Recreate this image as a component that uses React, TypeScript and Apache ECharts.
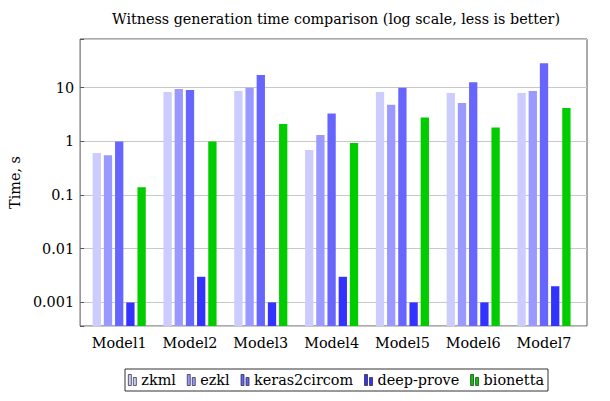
import React, { useEffect, useRef } from "react";
import * as echarts from "echarts";

const categories = ["Model1", "Model2", "Model3", "Model4", "Model5", "Model6", "Model7"];
const seriesNames = ["zkml", "ezkl", "keras2circom", "deep-prove", "bionetta"];
const zkml = [0.61, 8.3, 8.7, 0.69, 8.3, 8.0, 8.0];
const ezkl = [0.55, 9.5, 10, 1.31, 4.8, 5.2, 8.7];
const keras2circom = [1.0, 9.1, 17.3, 3.3, 10, 12.6, 28.5];
const deepProve = [0.001, 0.003, 0.001, 0.003, 0.001, 0.001, 0.002];
const bionetta = [0.14, 1.0, 2.1, 0.93, 2.8, 1.82, 4.2];
const yTickLabels: Record<string, string> = {
  "-3": "0.001",
  "-2": "0.01",
  "-1": "0.1",
  "0": "1",
  "1": "10",
};
const yMin = 0.000363;
const yMax = 81;

const colors = ["#ccccff", "#9999ff", "#6666ff", "#3333ff", "#00cc00"];
const FONT = "DejaVu Serif";
const FS = 14.4;

export default function App() {
  const ref = useRef<HTMLDivElement>(null);
  useEffect(() => {
    document.body.style.margin = "0";
    const chart = echarts.init(ref.current!, null, { renderer: "svg" });
    const values = [zkml, ezkl, keras2circom, deepProve, bionetta];
    const labelFmt = (v: number) => {
      const e = Math.log10(v);
      const r = Math.round(e);
      if (Math.abs(e - r) < 1e-6) return yTickLabels[String(r)] ?? "";
      return "";
    };
    const legendText = { fontFamily: FONT, fontSize: FS, color: "#000" };
    chart.setOption({
      animation: false,
      textStyle: { fontFamily: FONT },
      title: {
        text: "Witness generation time comparison (log scale, less is better)",
        left: 331,
        textAlign: "center",
        top: 7,
        textStyle: { fontFamily: FONT, fontSize: 14.3, fontWeight: "normal", color: "#000" },
      },
      legend: {
        data: seriesNames.map((n) => ({ name: n, textStyle: legendText })),
        left: 125,
        top: 369,
        icon: "path://M0,0H3V11H0Z M5,3H8V11H5Z",
        itemWidth: 8,
        itemHeight: 11,
        itemGap: 11,
        padding: [4, 4, 4, 3],
        borderColor: "#333",
        borderWidth: 1,
        itemStyle: { borderColor: "#222", borderWidth: 0.7 },
        textStyle: legendText,
      },
      grid: [
        { left: 76, right: 23, top: 39, bottom: 75, show: true, borderColor: "#555", borderWidth: 1 },
        { left: 83.8, right: 30.6, top: 39, bottom: 75 },
      ],
      xAxis: [
        {
          type: "category",
          gridIndex: 0,
          data: categories,
          axisLine: { show: false },
          axisTick: { show: false },
          axisLabel: { show: false },
        },
        {
          type: "category",
          gridIndex: 1,
          data: categories,
          axisLine: { show: false },
          axisTick: { show: false },
          axisLabel: { interval: 0, fontFamily: FONT, fontSize: FS, color: "#000", margin: 10 },
        },
      ],
      yAxis: [
        {
          type: "log",
          gridIndex: 0,
          logBase: 10,
          min: yMin,
          max: yMax,
          name: "Time, s",
          nameLocation: "middle",
          nameGap: 55,
          nameTextStyle: { fontFamily: FONT, fontSize: FS, color: "#000" },
          axisLine: { show: false },
          axisTick: { show: true, inside: true, length: 4, lineStyle: { color: "#555" } },
          axisLabel: { formatter: labelFmt, fontFamily: FONT, fontSize: FS, color: "#000", margin: 6 },
          splitLine: { show: true, lineStyle: { color: "#c8c8c8", width: 1 } },
        },
        {
          type: "log",
          gridIndex: 1,
          logBase: 10,
          min: yMin,
          max: yMax,
          startValue: yMin,
          show: false,
          splitLine: { show: false },
        },
      ],
      series: seriesNames.map((name, i) => ({
        name,
        type: "bar",
        xAxisIndex: 1,
        yAxisIndex: 1,
        data: values[i],
        barWidth: 8.3,
        barGap: "35%",
        itemStyle: { color: colors[i] },
      })),
    });
    return () => chart.dispose();
  }, []);
  return <div ref={ref} style={{ width: 610, height: 401 }} />;
}
